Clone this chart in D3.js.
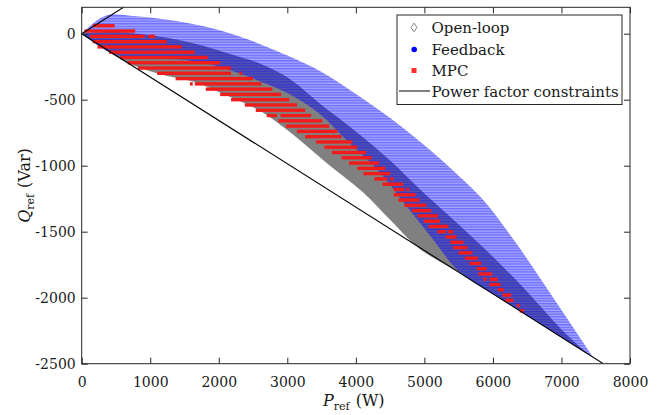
<!DOCTYPE html>
<html>
<head>
<meta charset="utf-8">
<script src="https://cdn.jsdelivr.net/npm/d3@7/dist/d3.min.js"></script>
<style>
  body { margin: 0; background: #fff; }
  svg text { font-family: "DejaVu Serif", "Liberation Serif", serif; fill: #1a1a1a; }
</style>
</head>
<body>
<div id="chart"></div>
<script>
'use strict';

// axis ticks
var xTicks = [0, 1000, 2000, 3000, 4000, 5000, 6000, 7000, 8000];
var yTicks = [-2500, -2000, -1500, -1000, -500, 0];

// open-loop region (grey), P in W, Q in Var
var openTopP = [0, 400, 700, 1000, 1400, 1800, 2200, 2600, 3000, 3500, 4000, 4500, 5000, 5500, 6000, 6500, 7000, 7410];
var openTopQ = [0, 12, 5, -12, -45, -95, -160, -225, -330, -540, -740, -960, -1210, -1445, -1690, -1955, -2240, -2436];
var openLowP = [0, 650, 1100, 1700, 2100, 2700, 3000, 3600, 4100, 4500, 4840, 5500, 6000, 6500, 7000, 7410];
var openLowQ = [0, -214, -300, -375, -465, -615, -730, -990, -1200, -1410, -1591, -1808, -1972, -2137, -2301, -2436];

// feedback region (blue)
var fbTopP = [0, 450, 800, 1200, 1600, 2000, 2500, 3000, 3500, 4000, 4500, 5000, 5500, 5850, 6300, 6900, 7460];
var fbTopQ = [0, 148, 132, 110, 75, 28, -58, -166, -290, -456, -638, -845, -1076, -1255, -1560, -2015, -2452];
var fbLowP = [0, 450, 600, 1000, 1600, 2000, 2500, 3000, 3500, 3850, 4357, 4751, 5132, 5453, 5600, 6000, 6500, 7000, 7460];
var fbLowQ = [0, -148, -170, -185, -205, -250, -340, -450, -620, -800, -1055, -1313, -1563, -1775, -1841, -1972, -2137, -2301, -2452];

// MPC rows: Q level and P extent of each red run
var mpcQ  = [60, 20, -20, -20, -60, -100, -140, -180, -220, -260, -300, -300, -340, -380, -380, -420, -460, -500, -540, -580, -620, -620, -660, -700, -740, -780, -820, -860, -900, -940, -980, -1020, -1060, -1100, -1100, -1140, -1180, -1180, -1220, -1260, -1300, -1340, -1380, -1420, -1460, -1500, -1500, -1540, -1580, -1620, -1660, -1700, -1740, -1780, -1820, -1860, -1860, -1900, -1940, -1980, -2020, -2060, -2100];
var mpcP0 = [160, 40, 120, 970, 160, 230, 400, 560, 670, 820, 1100, 2300, 1370, 1580, 1650, 1810, 2020, 2180, 2380, 2540, 2700, 2900, 2870, 2980, 3140, 3260, 3420, 3540, 3650, 3790, 3900, 4020, 4110, 4270, 4500, 4390, 4550, 4740, 4550, 4620, 4710, 4820, 4900, 4990, 5060, 5190, 5340, 5310, 5380, 5420, 5500, 5590, 5660, 5760, 5790, 5860, 5950, 5950, 6070, 6140, 6180, 6350, 6390];
var mpcP1 = [480, 780, 920, 1070, 1240, 1460, 1650, 1840, 2020, 2180, 2180, 2340, 2500, 1620, 2620, 2780, 2910, 3030, 3140, 3260, 2850, 3350, 3510, 3610, 3730, 3790, 3950, 4020, 4150, 4230, 4340, 4430, 4500, 4460, 4550, 4690, 4710, 4780, 4870, 4930, 5030, 5100, 5200, 5230, 5350, 5310, 5420, 5470, 5570, 5630, 5700, 5780, 5830, 5910, 5990, 5910, 6070, 6110, 6160, 6270, 6300, 6390, 6450];

// power factor 0.95 constraint lines (end points)
var pfUpperP = [0, 610];
var pfUpperQ = [0, 200];
var pfLowerP = [0, 7610];
var pfLowerQ = [0, -2500];

var legendLabels = ['Open-loop', 'Feedback', 'MPC', 'Power factor constraints'];

var width = 668, height = 415;
var margin = {top: 7.3, right: 38, bottom: 51.3, left: 81.7};

var svg = d3.select('#chart').append('svg')
  .attr('width', width)
  .attr('height', height);

var x = d3.scaleLinear().domain([0, 8000]).range([margin.left, width - margin.right]);
var y = d3.scaleLinear().domain([-2500, 200]).range([height - margin.bottom, margin.top]);

var defs = svg.append('defs');
defs.append('clipPath').attr('id', 'plotClip')
  .append('rect')
    .attr('x', x(0)).attr('y', y(200))
    .attr('width', x(8000) - x(0)).attr('height', y(-2500) - y(200));

// feedback points sit on rows 20 Var apart -> horizontal stripes
var rowH = y(0) - y(20);
var pat = defs.append('pattern')
  .attr('id', 'fbStripes')
  .attr('patternUnits', 'userSpaceOnUse')
  .attr('width', 10).attr('height', rowH)
  .attr('y', y(0));
pat.append('rect').attr('width', 10).attr('height', rowH).attr('fill', '#0000ff').attr('fill-opacity', 0.35);
pat.append('rect').attr('width', 10).attr('height', rowH * 0.5).attr('fill', '#0000ff').attr('fill-opacity', 0.34);

function pts(ps, qs) {
  return ps.map(function (p, i) { return [x(p), y(qs[i])]; });
}

var edge = d3.line().curve(d3.curveMonotoneX);

function regionPath(topP, topQ, lowP, lowQ) {
  var top = edge(pts(topP, topQ));
  var low = edge(pts(lowP, lowQ).reverse());
  return top + 'L' + low.slice(1) + 'Z';
}

var plot = svg.append('g').attr('clip-path', 'url(#plotClip)');

plot.append('path')
  .attr('d', regionPath(openTopP, openTopQ, openLowP, openLowQ))
  .attr('fill', '#808080');

plot.append('path')
  .attr('d', regionPath(fbTopP, fbTopQ, fbLowP, fbLowQ))
  .attr('fill', 'url(#fbStripes)');

var mpcH = 3.4;
plot.selectAll('.mpc')
  .data(mpcQ)
  .enter()
  .append('rect')
    .classed('mpc', 1)
    .attr('x', function (d, i) { return x(mpcP0[i]); })
    .attr('y', function (d) { return y(d) - mpcH / 2; })
    .attr('width', function (d, i) { return x(mpcP1[i]) - x(mpcP0[i]); })
    .attr('height', mpcH)
    .attr('fill', '#f01c1c');

var pfLine = d3.line();
plot.append('path')
  .attr('d', pfLine(pts(pfUpperP, pfUpperQ)))
  .attr('stroke', '#000').attr('stroke-width', 1.1).attr('fill', 'none');
plot.append('path')
  .attr('d', pfLine(pts(pfLowerP, pfLowerQ)))
  .attr('stroke', '#000').attr('stroke-width', 1.1).attr('fill', 'none');

// axes, ticks inward on all four sides
var tickLen = 6;
function styleAxis(g) {
  g.select('.domain').remove();
  g.selectAll('.tick line').attr('stroke', '#262626');
  g.selectAll('.tick text').attr('font-size', 14).attr('fill', '#1a1a1a');
}

svg.append('g')
  .attr('transform', 'translate(0,' + y(-2500) + ')')
  .call(d3.axisBottom(x).tickValues(xTicks).tickSize(-tickLen).tickPadding(13).tickFormat(function (d) { return String(d); }))
  .call(styleAxis);
svg.append('g')
  .attr('transform', 'translate(0,' + y(200) + ')')
  .call(d3.axisTop(x).tickValues(xTicks).tickSize(-tickLen).tickFormat(''))
  .call(styleAxis);
svg.append('g')
  .attr('transform', 'translate(' + x(0) + ',0)')
  .call(d3.axisLeft(y).tickValues(yTicks).tickSize(-tickLen).tickPadding(6).tickFormat(function (d) { return String(d); }))
  .call(styleAxis);
svg.append('g')
  .attr('transform', 'translate(' + x(8000) + ',0)')
  .call(d3.axisRight(y).tickValues(yTicks).tickSize(-tickLen).tickFormat(''))
  .call(styleAxis);

svg.append('rect')
  .attr('x', x(0)).attr('y', y(200))
  .attr('width', x(8000) - x(0)).attr('height', y(-2500) - y(200))
  .attr('fill', 'none').attr('stroke', '#262626').attr('stroke-width', 1);

// axis labels
var xl = svg.append('text')
  .attr('x', (x(0) + x(8000)) / 2 - 2)
  .attr('y', 406)
  .attr('text-anchor', 'middle')
  .attr('font-size', 16);
xl.append('tspan').attr('font-style', 'italic').text('P');
xl.append('tspan').attr('font-size', 11).attr('dy', 4).text('ref');
xl.append('tspan').attr('dy', -4).attr('dx', 6).text('(W)');

var yl = svg.append('text')
  .attr('transform', 'translate(30,' + ((y(200) + y(-2500)) / 2) + ') rotate(-90)')
  .attr('text-anchor', 'middle')
  .attr('font-size', 16);
yl.append('tspan').attr('font-style', 'italic').text('Q');
yl.append('tspan').attr('font-size', 11).attr('dy', 4).text('ref');
yl.append('tspan').attr('dy', -4).attr('dx', 6).text('(Var)');

// legend
var lg = svg.append('g').attr('transform', 'translate(397,15)');
lg.append('rect')
  .attr('width', 225).attr('height', 89.5)
  .attr('fill', '#fff').attr('stroke', '#262626').attr('stroke-width', 1);

var rowY = [12.5, 34.5, 55.5, 76];
lg.selectAll('.lab')
  .data(legendLabels)
  .enter()
  .append('text')
    .classed('lab', 1)
    .attr('x', 34.5)
    .attr('y', function (d, i) { return rowY[i] + 5.5; })
    .attr('font-size', 15)
    .text(function (d) { return d; });

lg.append('path')
  .attr('d', 'M17,' + (rowY[0] - 4.3) + 'l3,4.3l-3,4.3l-3,-4.3z')
  .attr('fill', '#fff').attr('stroke', '#808080').attr('stroke-width', 1);
lg.append('circle')
  .attr('cx', 17.2).attr('cy', rowY[1]).attr('r', 2.8)
  .attr('fill', '#0000ff');
lg.append('rect')
  .attr('x', 14.5).attr('y', rowY[2] - 2.5).attr('width', 5).attr('height', 5)
  .attr('fill', '#ff3030');
lg.append('line')
  .attr('x1', 2).attr('x2', 33).attr('y1', rowY[3]).attr('y2', rowY[3])
  .attr('stroke', '#000').attr('stroke-width', 1);
</script>
</body>
</html>
